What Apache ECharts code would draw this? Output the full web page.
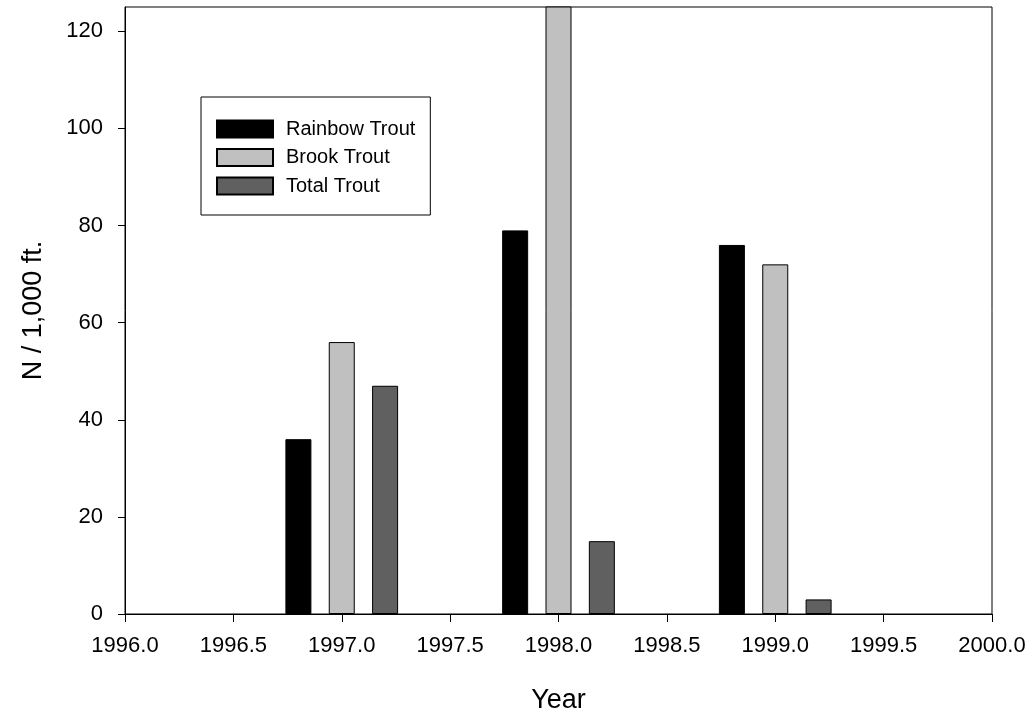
<!DOCTYPE html>
<html>
<head>
<meta charset="utf-8">
<script src="https://cdn.jsdelivr.net/npm/echarts@6/dist/echarts.min.js"></script>
<style>html,body{margin:0;padding:0;background:#fff}#c{width:1036px;height:717px}</style>
</head>
<body>
<div id="c"></div>
<script>
const years = [1997, 1998, 1999];
const rainbowTrout = [36, 79, 76];
const brookTrout = [56, 130, 72];
const totalTrout = [47, 15, 3];
const seriesNames = ['Rainbow Trout', 'Brook Trout', 'Total Trout'];
const seriesOffsets = [-0.2, 0, 0.2];
const seriesColors = ['#000000', '#c0c0c0', '#606060'];
const yTicks = [0, 20, 40, 60, 80, 100, 120];

const FONT = '"Liberation Sans", Arial, sans-serif';
const values = [rainbowTrout, brookTrout, totalTrout];

const chart = echarts.init(document.getElementById('c'));
chart.setOption({
  animation: false,
  backgroundColor: '#fff',
  textStyle: { fontFamily: FONT },
  grid: { left: 125, right: 44, top: 7, bottom: 103, outerBoundsMode: 'none', containLabel: false, show: true, borderColor: '#000', borderWidth: 1, backgroundColor: 'transparent' },
  legend: {
    orient: 'vertical', left: 201, top: 97,
    data: seriesNames,
    itemWidth: 56, itemHeight: 17, itemGap: 8.5,
    padding: [22, 15, 19, 15],
    borderColor: '#000', borderWidth: 1,
    textStyle: { fontSize: 20, lineHeight: 17, color: '#000', fontFamily: FONT, padding: [0, 0, 0, 8] },
    icon: 'rect'
  },
  xAxis: {
    type: 'value', min: 1996, max: 2000, interval: 0.5,
    name: 'Year', nameLocation: 'middle', nameGap: 73,
    nameTextStyle: { fontSize: 27, color: '#000', fontFamily: FONT },
    axisLine: { lineStyle: { color: '#000', width: 1 } },
    axisTick: { show: true, inside: false, length: 8, lineStyle: { color: '#000' } },
    axisLabel: { fontSize: 22, color: '#000', margin: 21, fontFamily: FONT, formatter: v => v.toFixed(1) },
    splitLine: { show: false }
  },
  yAxis: {
    type: 'value', min: 0, max: 125, interval: 20,
    name: 'N / 1,000 ft.', nameLocation: 'middle', nameGap: 78,
    nameTextStyle: { fontSize: 27, color: '#000', fontFamily: FONT },
    axisLine: { show: true, lineStyle: { color: '#000', width: 1 } },
    axisTick: { show: true, inside: false, length: 7, lineStyle: { color: '#000' }, customValues: yTicks },
    axisLabel: { fontSize: 22, color: '#000', margin: 22, fontFamily: FONT, customValues: yTicks },
    splitLine: { show: false }
  },
  series: seriesNames.map((name, i) => ({
    name: name,
    type: 'bar',
    barWidth: 26,
    barGap: '-100%',
    clip: true,
    itemStyle: { color: seriesColors[i], borderColor: '#000', borderWidth: 1 },
    data: years.map((y, j) => [y + seriesOffsets[i], values[i][j]])
  }))
});
</script>
</body>
</html>
